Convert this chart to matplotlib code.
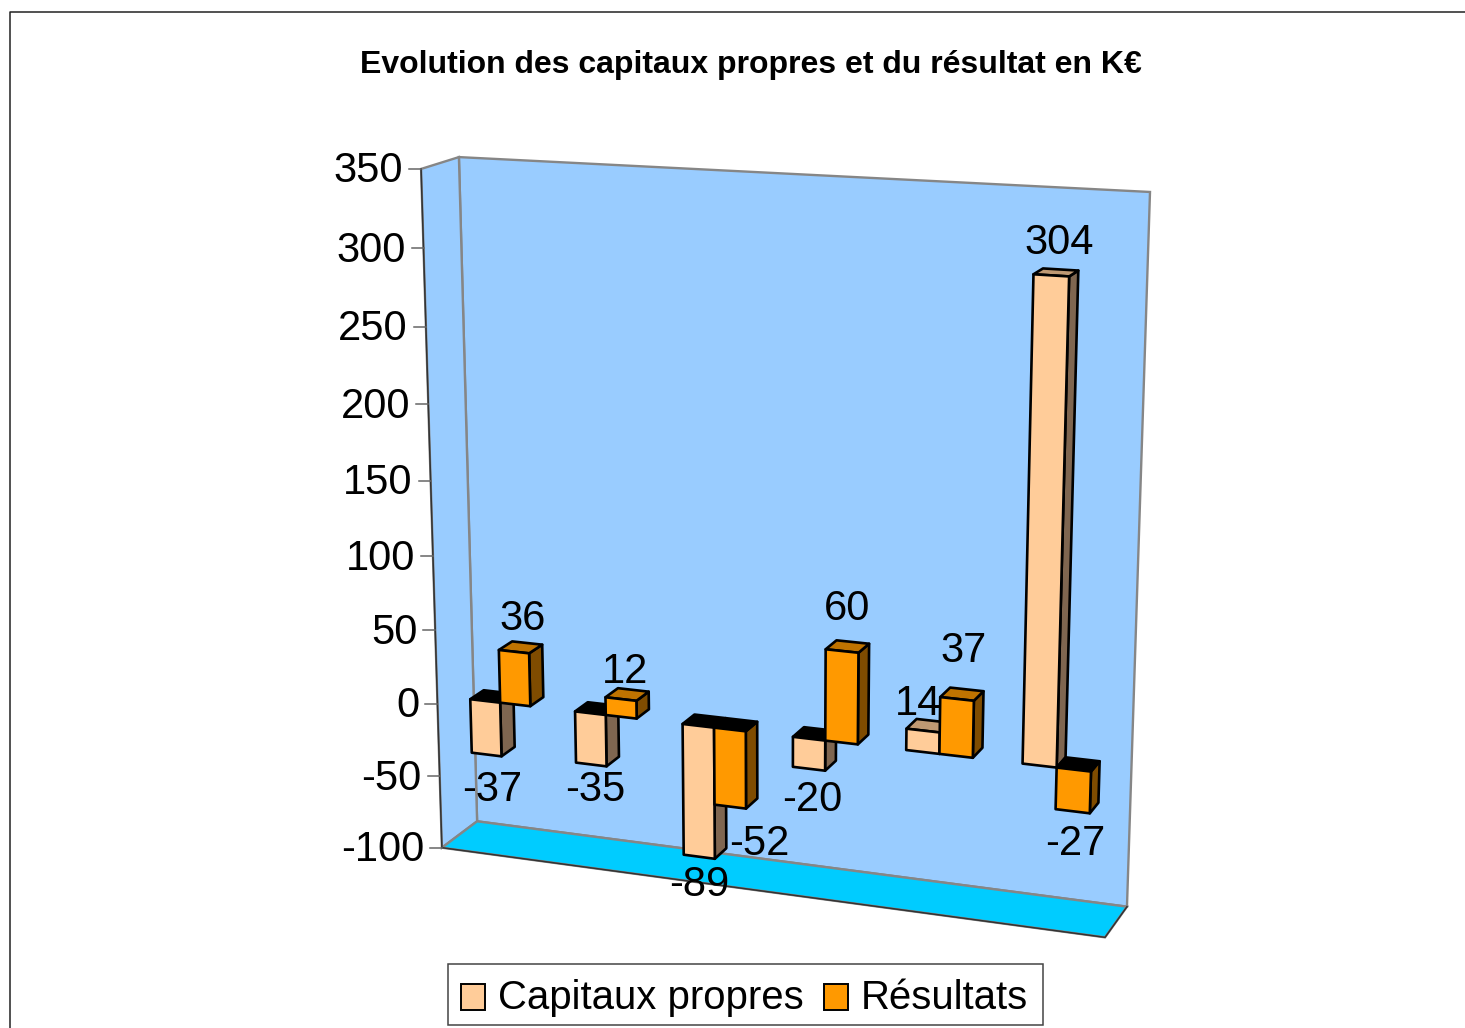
import numpy as np
import matplotlib
matplotlib.use("Agg")
import matplotlib.pyplot as plt
from matplotlib.patches import Polygon, Rectangle

plt.rcParams['font.family'] = ['Liberation Sans', 'DejaVu Sans']

# donnees
title = "Evolution des capitaux propres et du résultat en K€"
series_names = ["Capitaux propres", "Résultats"]
capitaux = [-37, -35, -89, -20, 14, 304]
resultats = [36, 12, -52, 60, 37, -27]
ticks = [350, 300, 250, 200, 150, 100, 50, 0, -50, -100]
vmin, vmax = -100, 350

# couleurs: face, cote, dessus
peach = ["#ffcc99", "#7f6650", "#bf9973"]
orange = ["#ff9900", "#7f4c00", "#bf7300"]
wall_col = "#99ccff"
floor_col = "#00ccff"
edge_grey = "#868686"

# coins du cadre 3D -> pixels: (x, v, profondeur) -> (px, py)
corners = [((0, vmin, 0), (442, 847)), ((0, vmax, 0), (421, 169)),
           ((0, vmin, 1), (477, 822)), ((0, vmax, 1), (459, 157)),
           ((1, vmin, 1), (1127, 906)), ((1, vmax, 1), (1150, 192)),
           ((1, vmin, 0), (1105, 938))]


def fit_camera():
    A, b = [], []
    for (x, v, d), (px, py) in corners:
        z = (v - vmin) / (vmax - vmin)
        A.append([x, z, d, 1, 0, 0, 0, 0, -px * x, -px * z, -px * d])
        b.append(px)
        A.append([0, 0, 0, 0, x, z, d, 1, -py * x, -py * z, -py * d])
        b.append(py)
    m = np.linalg.lstsq(np.array(A, float), np.array(b, float), rcond=None)[0]
    return np.append(m, 1).reshape(3, 4)


cam = fit_camera()


def proj(x, v, d):
    z = (v - vmin) / (vmax - vmin)
    p = cam @ np.array([x, z, d, 1.0])
    return p[0] / p[2], p[1] / p[2]


fig = plt.figure(figsize=(14.65, 10.28), dpi=100)
ax = fig.add_axes([0, 0, 1, 1])
ax.set_xlim(0, 1465)
ax.set_ylim(1028, 0)
ax.axis("off")

# bordure du graphique
ax.plot([10, 10, 1465], [1028, 12, 12], color="#222222", lw=1.1)

ax.text(750.5, 65, title, ha="center", va="center", fontsize=23, fontweight="bold")

# parois
back = [proj(0, vmin, 1), proj(1, vmin, 1), proj(1, vmax, 1), proj(0, vmax, 1)]
left = [proj(0, vmin, 0), proj(0, vmin, 1), proj(0, vmax, 1), proj(0, vmax, 0)]
floor = [proj(0, vmin, 0), proj(1, vmin, 0), proj(1, vmin, 1), proj(0, vmin, 1)]
ax.add_patch(Polygon(back, fc=wall_col, ec=edge_grey, lw=1.7))
ax.add_patch(Polygon(left, fc=wall_col, ec=edge_grey, lw=1.7))
ax.add_patch(Polygon(floor, fc=floor_col, ec=edge_grey, lw=1.7))
# aretes avant plus sombres
ax.plot(*zip(proj(0, vmax, 0), proj(0, vmin, 0), proj(1, vmin, 0), proj(1, vmin, 1)),
        color="#333333", lw=1.1)

# graduations
for t in ticks:
    px, py = proj(0, t, 0)
    ax.plot([px - 12, px], [py, py], color="#666666", lw=1.1)
    ax.text(px - 18, py - 2, str(t), ha="right", va="center_baseline", fontsize=30)

# barres
bar_w = 0.048
d0, d1 = 0.3, 0.68


def draw_bar(x0, val, cols):
    x1 = x0 + bar_w
    end = max(val, 0)
    low = min(val, 0)
    top = [proj(x0, end, d0), proj(x1, end, d0), proj(x1, end, d1), proj(x0, end, d1)]
    side = [proj(x1, low, d0), proj(x1, end, d0), proj(x1, end, d1), proj(x1, low, d1)]
    front = [proj(x0, low, d0), proj(x1, low, d0), proj(x1, end, d0), proj(x0, end, d0)]
    top_col = "#000000" if val < 0 else cols[2]
    ax.add_patch(Polygon(side, fc=cols[1], ec="black", lw=1.9, joinstyle="round"))
    ax.add_patch(Polygon(top, fc=top_col, ec="black", lw=1.9, joinstyle="round"))
    ax.add_patch(Polygon(front, fc=cols[0], ec="black", lw=1.9, joinstyle="round"))


# decalage des etiquettes (px) par rapport au bout de la barre
nudge_cap = [(6, 31), (4, 21), (0, 24), (3, 27), (-5, -31), (8, -37)]
nudge_res = [(9, -37), (4, -32), (29, 33), (5, -47), (7, -52), (3, 28)]

for i in range(len(capitaux)):
    x0 = (i + 0.5) / 6 - bar_w
    for x, val, cols, nudge in ((x0, capitaux[i], peach, nudge_cap[i]),
                                (x0 + bar_w, resultats[i], orange, nudge_res[i])):
        draw_bar(x, val, cols)
        px, py = proj(x + bar_w / 2, val, d0)
        ax.text(px + nudge[0], py + nudge[1], str(val), ha="center",
                va="center_baseline", fontsize=30, zorder=5)

# legende
ax.add_patch(Rectangle((448, 964), 595, 61, fc="white", ec="#444444", lw=1.1))
ax.add_patch(Rectangle((461, 984), 24, 26, fc=peach[0], ec="black", lw=1.4))
ax.add_patch(Rectangle((824, 984), 24, 26, fc=orange[0], ec="black", lw=1.4))
ax.text(498, 994, series_names[0], ha="left", va="center_baseline", fontsize=28.9)
ax.text(861, 994, series_names[1], ha="left", va="center_baseline", fontsize=28.9)

fig.savefig("out.png", dpi=100)
